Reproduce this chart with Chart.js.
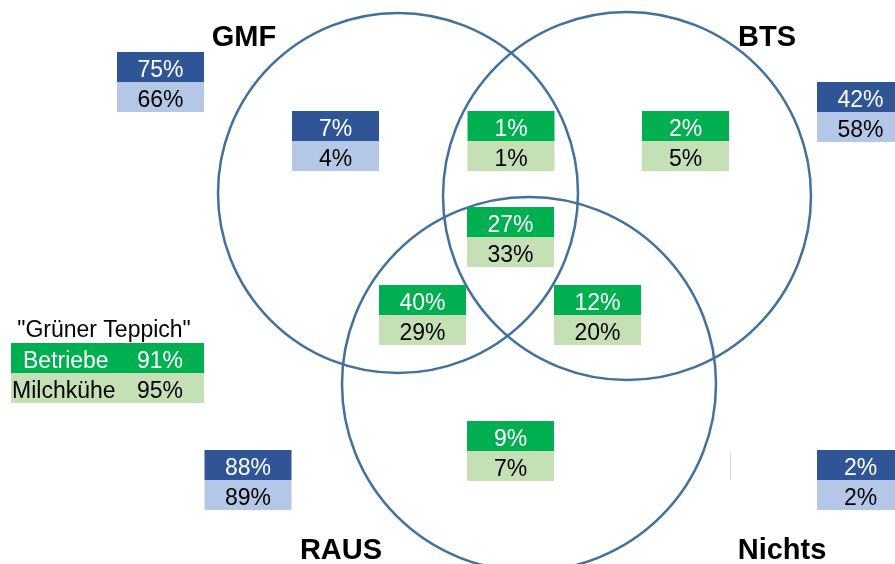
<!DOCTYPE html>
<html>
<head>
<meta charset="utf-8">
<script src="https://cdn.jsdelivr.net/npm/chart.js@4/dist/chart.umd.min.js"></script>
<style>
  html, body { margin: 0; padding: 0; background: #fff; }
  #wrap { width: 895px; height: 564px; }
</style>
</head>
<body>
<div id="wrap"><canvas id="venn" width="895" height="564"></canvas></div>
<script>
// Daten: Anteil Betriebe (obere Zeile) und Milchkühe (untere Zeile) in %
const setNames = ['GMF', 'BTS', 'RAUS', 'Nichts'];
const boxNames = ['GMF gesamt', 'BTS gesamt', 'RAUS gesamt', 'Nichts',
                  'nur GMF', 'GMF + BTS', 'nur BTS', 'GMF + BTS + RAUS',
                  'GMF + RAUS', 'BTS + RAUS', 'nur RAUS'];
const betriebe   = [75, 42, 88, 2, 7, 1, 2, 27, 40, 12, 9];
const milchkuehe = [66, 58, 89, 2, 4, 1, 5, 33, 29, 20, 7];
const legendTitle = '"Grüner Teppich"';
const legendRows = ['Betriebe', 'Milchkühe'];
const legendValues = [91, 95];

// Layout (Pixelkoordinaten der Zeichenfläche)
const W = 895, H = 564;
const circleLayout = [
  { x: 398, y: 193, r: 180 },   // GMF
  { x: 627, y: 196, r: 184 },   // BTS
  { x: 529, y: 384, r: 187 }    // RAUS
];
const labelLayout = [
  { x: 244, y: 46 }, { x: 767, y: 46 }, { x: 341, y: 559 }, { x: 782, y: 559 }
];
// cx, top, Farbart (b = blau, g = grün)
const boxLayout = [
  [160.5, 52, 'b'], [860.5, 82, 'b'], [248, 450, 'b'], [860.5, 450, 'b'],
  [335.5, 111, 'b'], [511, 111, 'g'], [685.5, 111, 'g'], [510.5, 207, 'g'],
  [422.5, 285, 'g'], [597.5, 285, 'g'], [510.5, 421, 'g']
];

const colors = {
  line: '#41719C',
  darkBlue: '#2F5597',
  lightBlue: '#B4C7E7',
  green: '#00B050',
  lightGreen: '#C5E0B4'
};
const LINE_W = 2.5;
const BOX_W = 87, ROW_H = 30;
const numFont = '23px "Liberation Sans", Arial, sans-serif';

// Bubble-Charts reservieren Rand in Größe des größten Radius -> Skala so setzen,
// dass Datenwerte = Pixel bleiben
const pad = Math.max(...circleLayout.map(c => c.r)) + LINE_W;

const boxPlugin = {
  id: 'vennBoxes',
  afterDatasetsDraw(chart) {
    const ctx = chart.ctx;
    const xs = chart.scales.x, ys = chart.scales.y;
    ctx.save();
    ctx.font = numFont;
    ctx.textAlign = 'center';
    ctx.textBaseline = 'alphabetic';
    boxLayout.forEach((b, i) => {
      const cx = xs.getPixelForValue(b[0]);
      const top = ys.getPixelForValue(b[1]);
      const left = cx - BOX_W / 2;
      const blue = b[2] === 'b';
      ctx.fillStyle = blue ? colors.darkBlue : colors.green;
      ctx.fillRect(left, top, BOX_W, ROW_H);
      ctx.fillStyle = blue ? colors.lightBlue : colors.lightGreen;
      ctx.fillRect(left, top + ROW_H, BOX_W, ROW_H);
      ctx.fillStyle = '#fff';
      ctx.fillText(betriebe[i] + '%', cx, top + 25);
      ctx.fillStyle = '#000';
      ctx.fillText(milchkuehe[i] + '%', cx, top + ROW_H + 25);
    });

    // Legende "Grüner Teppich"
    ctx.textAlign = 'center';
    ctx.fillStyle = '#000';
    ctx.fillText(legendTitle, 104, 337);
    ctx.fillStyle = colors.green;
    ctx.fillRect(11, 343, 193, 30);
    ctx.fillStyle = colors.lightGreen;
    ctx.fillRect(11, 373, 193, 30);
    ctx.textAlign = 'left';
    ctx.fillStyle = '#fff';
    ctx.fillText(legendRows[0], 23, 368);
    ctx.fillText(legendValues[0] + '%', 137, 368);
    ctx.fillStyle = '#000';
    ctx.fillText(legendRows[1], 12, 398);
    ctx.fillText(legendValues[1] + '%', 137, 398);

    // Mengennamen
    ctx.font = 'bold 29px "Liberation Sans", Arial, sans-serif';
    ctx.textAlign = 'center';
    setNames.forEach((n, i) => {
      ctx.fillText(n, xs.getPixelForValue(labelLayout[i].x), ys.getPixelForValue(labelLayout[i].y));
    });

    // feine Trennlinie links vom "Nichts"-Kasten
    ctx.strokeStyle = '#D9D9D9';
    ctx.lineWidth = 1;
    ctx.beginPath();
    ctx.moveTo(730.5, 452);
    ctx.lineTo(730.5, 480);
    ctx.stroke();
    ctx.restore();
  }
};

new Chart(document.getElementById('venn'), {
  type: 'bubble',
  data: {
    datasets: [{
      label: 'Mengen',
      data: circleLayout.map(c => ({ x: c.x, y: c.y, r: c.r })),
      backgroundColor: 'rgba(0,0,0,0)',
      borderColor: colors.line,
      borderWidth: LINE_W,
      hoverBorderWidth: LINE_W,
      hoverRadius: 0,
      clip: false
    }]
  },
  options: {
    responsive: false,
    animation: false,
    events: [],
    layout: { padding: 0 },
    plugins: {
      legend: { display: false },
      tooltip: { enabled: false }
    },
    scales: {
      x: { type: 'linear', min: pad, max: W - pad, display: false },
      y: { type: 'linear', min: pad, max: H - pad, reverse: true, display: false }
    }
  },
  plugins: [boxPlugin]
});
</script>
</body>
</html>
